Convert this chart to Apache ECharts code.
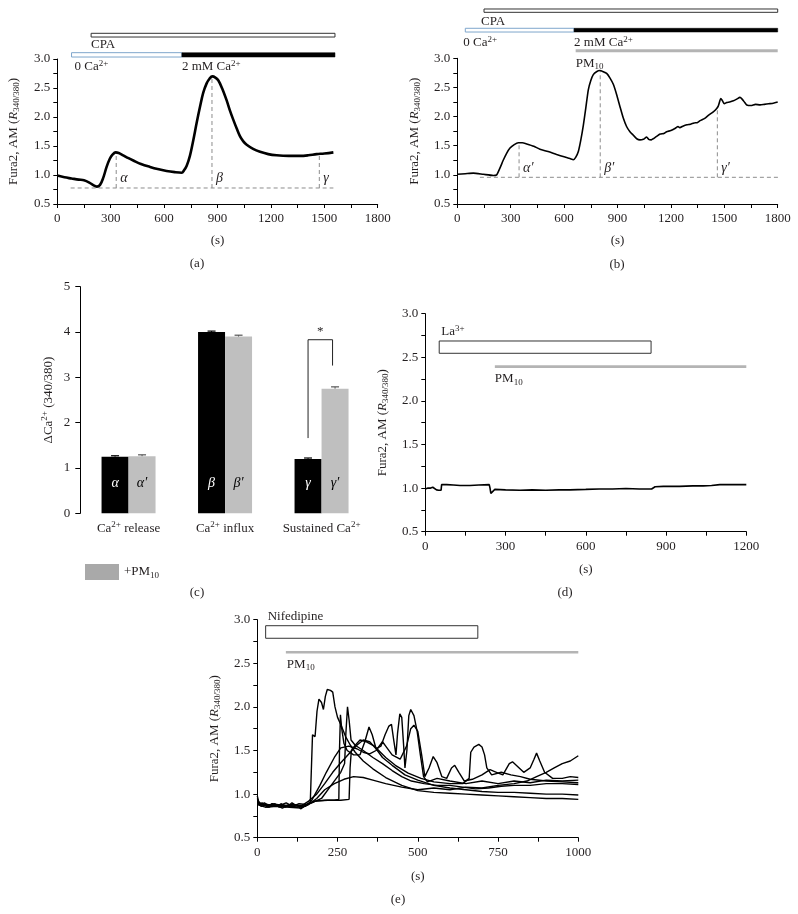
<!DOCTYPE html>
<html><head><meta charset="utf-8">
<script src="https://cdn.jsdelivr.net/npm/echarts/dist/echarts.min.js"></script>
<style>html,body{margin:0;padding:0;background:#fff}#c{width:798px;height:914px}</style>
</head><body><div id="c"></div>
<script>
// ================= DATA =================
// Panel (a): Fura2 ratio vs time (s), control
const aTrace = [[0,0.99],[40,0.96],[80,0.94],[120,0.92],[150,0.91],[180,0.87],[205,0.82],[222,0.80],[240,0.83],[258,0.95],[277,1.14],[295,1.28],[310,1.35],[328,1.39],[345,1.38],[370,1.34],[400,1.29],[427,1.25],[470,1.19],[521,1.14],[570,1.10],[614,1.07],[660,1.05],[699,1.04],[712,1.08],[727,1.16],[745,1.33],[764,1.60],[783,1.90],[802,2.18],[820,2.42],[839,2.58],[855,2.66],[871,2.70],[888,2.68],[905,2.63],[928,2.48],[951,2.29],[970,2.11],[989,1.95],[1008,1.80],[1026,1.67],[1045,1.58],[1064,1.52],[1100,1.45],[1139,1.40],[1185,1.36],[1232,1.34],[1300,1.33],[1364,1.33],[1410,1.34],[1457,1.36],[1500,1.37],[1551,1.39]];
const aTreatments = [
  {label:'CPA', start:190, end:1560},
  {label:'0 Ca{sup|2+}', start:80, end:700},
  {label:'2 mM Ca{sup|2+}', start:700, end:1560}
];
const aBaseline = {level:0.776, start:75, end:1551};
const aMarks = [{t:331, peak:1.38, label:'α'},{t:869, peak:2.70, label:'β'},{t:1472, peak:1.37, label:'γ'}];

// Panel (b): with PM10
const bTrace = [[0,1.01],[45,1.02],[90,1.03],[146,1.01],[202,0.99],[221,1.0],[240,1.12],[258,1.25],[277,1.37],[296,1.46],[320,1.52],[343,1.55],[365,1.55],[390,1.53],[430,1.49],[464,1.44],[510,1.40],[558,1.35],[600,1.31],[633,1.28],[652,1.26],[665,1.30],[680,1.40],[694,1.60],[708,1.85],[722,2.15],[736,2.46],[750,2.62],[764,2.72],[782,2.77],[801,2.79],[820,2.77],[839,2.74],[858,2.66],[877,2.55],[895,2.38],[914,2.17],[932,1.98],[951,1.83],[970,1.74],[989,1.68],[1008,1.62],[1026,1.60],[1045,1.61],[1064,1.65],[1075,1.61],[1090,1.60],[1101,1.62],[1120,1.66],[1140,1.70],[1160,1.71],[1176,1.74],[1200,1.76],[1225,1.80],[1240,1.83],[1250,1.81],[1270,1.84],[1290,1.86],[1310,1.87],[1330,1.89],[1350,1.90],[1364,1.93],[1390,1.97],[1410,2.02],[1438,2.08],[1455,2.13],[1466,2.18],[1474,2.26],[1480,2.31],[1490,2.27],[1500,2.22],[1513,2.24],[1530,2.25],[1551,2.27],[1570,2.30],[1588,2.33],[1600,2.30],[1615,2.24],[1626,2.20],[1650,2.19],[1675,2.21],[1701,2.20],[1725,2.21],[1750,2.22],[1775,2.23],[1800,2.25]];
const bTreatments = [
  {label:'CPA', start:150, end:1800},
  {label:'0 Ca{sup|2+}', start:45, end:656},
  {label:'2 mM Ca{sup|2+}', start:656, end:1800},
  {label:'PM{sub|10}', start:665, end:1800}
];
const bBaseline = {level:0.958, start:127, end:1820};
const bMarks = [{t:347, peak:1.55, label:'α′'},{t:803, peak:2.79, label:'β′'},{t:1461, peak:2.17, label:'γ′'}];

// Panel (c): ΔCa2+ bar summary
const cCategories = ['Ca2+ release', 'Ca2+ influx', 'Sustained Ca2+'];
const cControl = [1.25, 4.00, 1.20];
const cControlErr = [0.02, 0.02, 0.02];
const cPM10 = [1.26, 3.90, 2.75];
const cPM10Err = [0.03, 0.03, 0.04];
const cControlLabels = ['α', 'β', 'γ'];
const cPM10Labels = ['α′', 'β′', 'γ′'];
const cSignificance = {cat:2, leftY:1.66, topY:3.83, rightY:3.26, text:'*'};

// Panel (d): La3+ then PM10
const dTrace = [[0,0.99],[10,1.0],[20,1.0],[28,1.01],[35,1.0],[42,0.98],[50,0.975],[59,0.975],[61,1.04],[80,1.04],[105,1.035],[130,1.03],[167,1.03],[200,1.035],[239,1.04],[242,1.0],[245,0.94],[252,0.96],[260,0.985],[300,0.98],[354,0.975],[400,0.98],[450,0.975],[500,0.98],[540,0.98],[600,0.985],[650,0.99],[700,0.99],[750,0.995],[800,0.99],[846,0.99],[852,1.0],[859,1.015],[890,1.02],[950,1.02],[1000,1.025],[1039,1.025],[1070,1.03],[1101,1.04],[1150,1.04],[1200,1.04]];
const dTreatments = [
  {label:'La{sup|3+}', start:52, end:844},
  {label:'PM{sub|10}', start:260, end:1200}
];

// Panel (e): Nifedipine then PM10, individual cells
const eTrace1 = [[0,0.98],[5,0.9],[12,0.86],[25,0.88],[37,0.85],[50,0.88],[62,0.86],[75,0.89],[88,0.85],[100,0.87],[112,0.85],[125,0.88],[135,0.83],[150,0.87],[165,0.9],[170,0.92],[172,1.68],[180,1.66],[186,1.95],[192,2.09],[200,2.05],[206,1.97],[212,2.12],[218,2.2],[228,2.19],[235,2.17],[242,2.0],[250,1.88],[262,1.78],[275,1.66],[290,1.56],[305,1.48],[330,1.38],[360,1.29],[400,1.19],[450,1.1],[500,1.04],[550,1.02],[600,1.01],[650,1.0],[700,0.99],[750,0.98],[800,0.97],[850,0.96],[900,0.95],[950,0.95],[1000,0.94]];
const eTrace2 = [[0,0.95],[10,0.87],[22,0.9],[40,0.86],[55,0.89],[68,0.85],[80,0.88],[95,0.86],[108,0.9],[120,0.87],[140,0.85],[160,0.89],[180,0.92],[210,0.93],[240,0.93],[254,0.94],[256,1.5],[259,1.91],[263,1.75],[270,1.58],[280,1.5],[300,1.45],[320,1.45],[335,1.6],[348,1.77],[358,1.68],[370,1.52],[390,1.42],[420,1.33],[460,1.22],[500,1.16],[550,1.1],[600,1.07],[650,1.05],[700,1.03],[750,1.02],[800,1.02],[850,1.01],[900,1.0],[950,1.0],[1000,0.99]];
const eTrace3 = [[0,0.9],[20,0.88],[33,0.85],[45,0.89],[60,0.87],[78,0.84],[100,0.88],[118,0.85],[140,0.86],[170,0.9],[200,0.95],[230,1.1],[260,1.25],[272,1.35],[276,1.7],[281,2.0],[286,1.85],[292,1.62],[305,1.56],[330,1.5],[360,1.42],[390,1.35],[420,1.27],[450,1.2],[480,1.15],[520,1.12],[560,1.1],[600,1.1],[640,1.08],[680,1.06],[720,1.07],[760,1.09],[800,1.1],[850,1.1],[900,1.12],[950,1.12],[1000,1.11]];
const eTrace4 = [[0,0.88],[15,0.9],[30,0.86],[48,0.89],[70,0.87],[90,0.9],[110,0.86],[130,0.89],[150,0.88],[180,0.92],[220,0.93],[260,0.93],[286,0.94],[289,1.3],[293,1.5],[305,1.56],[320,1.62],[340,1.6],[365,1.55],[400,1.42],[430,1.33],[470,1.24],[510,1.18],[550,1.14],[600,1.12],[640,1.12],[660,1.18],[665,1.48],[675,1.54],[690,1.57],[700,1.54],[708,1.45],[715,1.3],[730,1.22],[760,1.25],[790,1.22],[820,1.2],[850,1.17],[900,1.15],[950,1.14],[1000,1.13]];
const eTrace5 = [[0,0.92],[20,0.87],[60,0.88],[100,0.86],[140,0.87],[160,0.92],[185,1.0],[210,1.12],[235,1.25],[260,1.36],[285,1.46],[310,1.56],[330,1.62],[350,1.6],[370,1.52],[385,1.55],[398,1.68],[410,1.78],[418,1.8],[425,1.62],[432,1.45],[437,1.7],[444,1.92],[450,1.88],[456,1.55],[460,1.3],[466,1.5],[472,1.9],[478,1.97],[488,1.9],[498,1.72],[508,1.45],[518,1.2],[530,1.14],[560,1.18],[600,1.15],[650,1.12],[700,1.15],[750,1.12],[800,1.15],[850,1.13],[900,1.16],[950,1.15],[1000,1.16]];
const eTrace6 = [[0,0.89],[30,0.88],[70,0.86],[110,0.88],[150,0.86],[170,0.93],[195,1.1],[215,1.25],[240,1.42],[260,1.53],[285,1.55],[310,1.52],[330,1.48],[350,1.46],[370,1.5],[390,1.6],[400,1.55],[420,1.45],[445,1.4],[465,1.55],[478,1.75],[488,1.79],[500,1.72],[512,1.45],[522,1.2],[535,1.3],[548,1.43],[560,1.36],[575,1.2],[590,1.18],[605,1.3],[615,1.33],[628,1.25],[645,1.15],[670,1.17],[700,1.22],[725,1.28],[745,1.25],[765,1.22],[785,1.35],[795,1.37],[810,1.32],[830,1.25],[850,1.3],[862,1.4],[870,1.47],[880,1.38],[895,1.25],[920,1.18],[950,1.18],[975,1.2],[1000,1.19]];
const eTrace7 = [[0,0.88],[25,0.85],[60,0.86],[100,0.85],[135,0.84],[160,0.88],[185,0.95],[210,1.05],[240,1.12],[270,1.17],[300,1.2],[330,1.19],[360,1.16],[400,1.12],[450,1.08],[500,1.05],[550,1.07],[600,1.05],[650,1.08],[700,1.07],[750,1.1],[800,1.12],[840,1.15],[870,1.2],[900,1.25],[925,1.3],[950,1.35],[975,1.38],[1000,1.44]];
const eTraces = [eTrace1, eTrace2, eTrace3, eTrace4, eTrace5, eTrace6, eTrace7];
const eTreatments = [
  {label:'Nifedipine', start:26, end:687},
  {label:'PM{sub|10}', start:89, end:1000}
];

// ================= STYLE / LAYOUT =================
const FONT = '"Liberation Serif","DejaVu Serif","Times New Roman",serif';
const INK = '#231f20';
const FS = 13;
const RICH = {
  i:{fontFamily:FONT, fontStyle:'italic', fontSize:FS, color:INK, lineHeight:16},
  sub:{fontFamily:FONT, fontSize:9, color:INK, lineHeight:8, verticalAlign:'bottom'},
  sup:{fontFamily:FONT, fontSize:9, color:INK, lineHeight:8, verticalAlign:'top'}
};
const FURA = 'Fura2, AM ({i|R}{sub|340/380})';
const BAR_STYLE = {
  open:{fill:'#fff', stroke:'#333', lineWidth:1},
  blue:{fill:'#fff', stroke:'#7fa6cc', lineWidth:1},
  solid:{fill:'#000', stroke:'#000', lineWidth:0.5},
  gray:{fill:'#b4b4b4', stroke:'#b4b4b4', lineWidth:0}
};
const aLayout = [
  {kind:'open', y0:3.379, y1:3.443, pos:'below', dx:0, dy:8},
  {kind:'blue', y0:3.034, y1:3.109, pos:'below', dx:3, dy:10},
  {kind:'solid', y0:3.034, y1:3.109, pos:'below', dx:0, dy:10}
];
const bLayout = [
  {kind:'open', y0:3.789, y1:3.846, pos:'below', dx:-3, dy:9.5},
  {kind:'blue', y0:3.451, y1:3.515, pos:'below', dx:-2, dy:11},
  {kind:'solid', y0:3.451, y1:3.515, pos:'below', dx:0, dy:11},
  {kind:'gray', y0:3.103, y1:3.154, pos:'below', dx:0, dy:11}
];
const dLayout = [
  {kind:'open', y0:2.546, y1:2.687, pos:'above', dx:2, dy:9},
  {kind:'gray', y0:2.377, y1:2.408, pos:'below', dx:0, dy:11}
];
const eLayout = [
  {kind:'open', y0:2.787, y1:2.931, pos:'above', dx:2, dy:9},
  {kind:'gray', y0:2.612, y1:2.641, pos:'below', dx:1, dy:11}
];

function textStyle(txt, extra) {
  return Object.assign({text:txt, fill:INK, fontFamily:FONT, fontSize:FS, lineHeight:16,
    rich:RICH, align:'left', textAlign:'left', verticalAlign:'middle', textVerticalAlign:'middle'}, extra||{});
}

function treatmentSeries(idx, items, layout) {
  return {
    type:'custom', xAxisIndex:idx, yAxisIndex:idx, clip:false, silent:true, z:5,
    data: items.map(d => [d.start, d.end]),
    renderItem: (params, api) => {
      const d = items[params.dataIndex], L = layout[params.dataIndex];
      const p0 = api.coord([api.value(0), L.y1]);
      const p1 = api.coord([api.value(1), L.y0]);
      const children = [{type:'rect', shape:{x:p0[0], y:p0[1], width:p1[0]-p0[0], height:p1[1]-p0[1]}, style:BAR_STYLE[L.kind]}];
      const ty = L.pos === 'below' ? p1[1] + L.dy : p0[1] - L.dy;
      children.push({type:'text', x:p0[0] + L.dx, y:ty, style:textStyle(d.label)});
      return {type:'group', children};
    }
  };
}

function baselineSeries(idx, base) {
  return {type:'line', xAxisIndex:idx, yAxisIndex:idx, clip:false, silent:true, showSymbol:false, symbol:'none',
    data:[[base.start, base.level],[base.end, base.level]],
    lineStyle:{color:'#8c8c8c', width:1, type:[4,3]}, z:3};
}
function markerSeries(idx, base, marks, labelLift) {
  return {
    type:'custom', xAxisIndex:idx, yAxisIndex:idx, clip:false, silent:true, z:3,
    data: marks.map(m => [m.t, m.peak]),
    renderItem: (params, api) => {
      const m = marks[params.dataIndex];
      const pb = api.coord([api.value(0), base.level]);
      const pt = api.coord([api.value(0), api.value(1)]);
      return {type:'group', children:[
        {type:'line', shape:{x1:pb[0], y1:pb[1], x2:pt[0], y2:pt[1]}, style:{stroke:'#8c8c8c', lineWidth:1, lineDash:[4,3]}},
        {type:'text', x:pb[0] + 4, y:pb[1] - labelLift, style:textStyle(m.label, {fontStyle:'italic', fontSize:14})}
      ]};
    }
  };
}

function xAxis(idx, max, interval, gap) {
  return {type:'value', gridIndex:idx, min:0, max, interval,
    axisLine:{show:true, onZero:false, lineStyle:{color:'#000', width:1}},
    axisTick:{show:true, length:4, lineStyle:{color:'#000'}},
    minorTick:{show:true, splitNumber:2, length:4, lineStyle:{color:'#000'}},
    splitLine:{show:false}, minorSplitLine:{show:false},
    axisLabel:{fontFamily:FONT, fontSize:FS, color:INK, margin:8, formatter:v => String(v)},
    name:'(s)', nameLocation:'middle', nameGap:gap,
    nameTextStyle:{fontFamily:FONT, fontSize:FS, color:INK}};
}
function yAxis(idx, min, max, gap) {
  return {type:'value', gridIndex:idx, min, max, interval:0.5,
    axisLine:{show:true, onZero:false, lineStyle:{color:'#000', width:1}},
    axisTick:{show:true, length:4, lineStyle:{color:'#000'}},
    minorTick:{show:true, splitNumber:2, length:4, lineStyle:{color:'#000'}},
    splitLine:{show:false}, minorSplitLine:{show:false},
    axisLabel:{fontFamily:FONT, fontSize:FS, color:INK, margin:7, formatter:v => v.toFixed(1)},
    name:FURA, nameLocation:'middle', nameGap:gap, nameRotate:90,
    nameTextStyle:{fontFamily:FONT, fontSize:FS, color:INK, lineHeight:16, rich:RICH}};
}
function traceSeries(idx, data, width) {
  return {type:'line', xAxisIndex:idx, yAxisIndex:idx, data, showSymbol:false, symbol:'none',
    lineStyle:{color:'#000', width}, z:4, silent:true};
}

const chart = echarts.init(document.getElementById('c'), null, {width:798, height:914});

const series = [
  Object.assign(traceSeries(0, aTrace, 2.6), {smooth:0.35}),
  treatmentSeries(0, aTreatments, aLayout),
  baselineSeries(0, aBaseline),
  markerSeries(0, aBaseline, aMarks, 10),
  Object.assign(traceSeries(1, bTrace, 1.6), {smooth:0.2}),
  treatmentSeries(1, bTreatments, bLayout),
  baselineSeries(1, bBaseline),
  markerSeries(1, bBaseline, bMarks, 9),
  {type:'bar', name:'Control', xAxisIndex:2, yAxisIndex:2, data:cControl, barWidth:27, barGap:'0%',
    itemStyle:{color:'#000'}, silent:true,
    label:{show:true, position:'insideBottom', distance:23, formatter:p => cControlLabels[p.dataIndex],
      fontFamily:FONT, fontStyle:'italic', fontSize:14, color:'#fff'}},
  {type:'bar', name:'+PM10', xAxisIndex:2, yAxisIndex:2, data:cPM10, barWidth:27, barGap:'0%',
    itemStyle:{color:'#bfbfbf'}, silent:true,
    label:{show:true, position:'insideBottom', distance:23, formatter:p => cPM10Labels[p.dataIndex],
      fontFamily:FONT, fontStyle:'italic', fontSize:14, color:'#000'}},
  {type:'custom', xAxisIndex:2, yAxisIndex:2, silent:true, clip:false, z:6,
    data: cCategories.map((c,i) => [i, cControl[i], cControlErr[i], cPM10[i], cPM10Err[i]]),
    renderItem:(params, api) => {
      const i = api.value(0), half = 13.5, cap = 4;
      const kids = [];
      [[api.value(1), api.value(2), -half, '#000'], [api.value(3), api.value(4), half, '#555']].forEach(([v, e, off, col]) => {
        const top = api.coord([i, v + e]), bot = api.coord([i, v]);
        const x = top[0] + off;
        kids.push({type:'line', shape:{x1:x, y1:bot[1], x2:x, y2:top[1]}, style:{stroke:col, lineWidth:1}});
        kids.push({type:'line', shape:{x1:x-cap, y1:top[1], x2:x+cap, y2:top[1]}, style:{stroke:col, lineWidth:1.2}});
      });
      return {type:'group', children:kids};
    }},
  {type:'custom', xAxisIndex:2, yAxisIndex:2, silent:true, clip:false, z:6,
    data:[[cSignificance.cat, cSignificance.leftY, cSignificance.topY, cSignificance.rightY]],
    renderItem:(params, api) => {
      const c = api.value(0);
      const pl = api.coord([c, api.value(1)]), pt = api.coord([c, api.value(2)]), pr = api.coord([c, api.value(3)]);
      const xl = pl[0] - 13.5, xr = pl[0] + 11;
      return {type:'group', children:[
        {type:'polyline', shape:{points:[[xl, pl[1]],[xl, pt[1]],[xr, pt[1]],[xr, pr[1]]]}, style:{stroke:'#222', lineWidth:1, fill:null}},
        {type:'text', x:(xl+xr)/2, y:pt[1]-8, style:textStyle(cSignificance.text, {align:'center', textAlign:'center', fontSize:13})}
      ]};
    }},
  traceSeries(3, dTrace, 1.6),
  treatmentSeries(3, dTreatments, dLayout),
  ...eTraces.map(t => traceSeries(4, t, 1.4)),
  treatmentSeries(4, eTreatments, eLayout)
];

const panelText = (t, x, y) => ({type:'text', x, y, style:{text:t, fill:INK, fontFamily:FONT, fontSize:FS, align:'center', textAlign:'center', verticalAlign:'middle', textVerticalAlign:'middle'}});

chart.setOption({
  animation:false,
  backgroundColor:'#fff',
  textStyle:{fontFamily:FONT},
  grid:[
    {left:57.3, top:59, width:320.4, height:145},
    {left:457.3, top:58.3, width:320.4, height:145.7},
    {left:80.3, top:286.7, width:289.5, height:226.6},
    {left:425.3, top:313.7, width:321, height:218},
    {left:257.3, top:619.7, width:321, height:218}
  ],
  xAxis:[
    xAxis(0, 1800, 300, 30),
    xAxis(1, 1800, 300, 30),
    {type:'category', gridIndex:2, data:cCategories,
      axisLine:{show:false}, axisTick:{show:false},
      axisLabel:{interval:0, margin:7, fontFamily:FONT, fontSize:FS, color:INK, lineHeight:16, rich:RICH,
        formatter:v => v.replace('2+', '{sup|2+}')}},
    xAxis(3, 1200, 300, 31),
    xAxis(4, 1000, 250, 32)
  ],
  yAxis:[
    yAxis(0, 0.5, 3.0, 36),
    yAxis(1, 0.5, 3.0, 35),
    {type:'value', gridIndex:2, min:0, max:5, interval:1,
      axisLine:{show:true, onZero:false, lineStyle:{color:'#000'}},
      axisTick:{show:true, length:5, lineStyle:{color:'#000'}},
      splitLine:{show:false},
      axisLabel:{fontFamily:FONT, fontSize:FS, color:INK, margin:10},
      name:'ΔCa{sup|2+} (340/380)', nameLocation:'middle', nameGap:24, nameRotate:90,
      nameTextStyle:{fontFamily:FONT, fontSize:FS, color:INK, lineHeight:16, rich:RICH}},
    yAxis(3, 0.5, 3.0, 35),
    yAxis(4, 0.5, 3.0, 35)
  ],
  legend:{show:true, selectedMode:false, left:80, top:559, icon:'rect', itemWidth:34, itemHeight:16, itemGap:8,
    data:[{name:'+PM10', itemStyle:{color:'#a9a9a9'}}],
    formatter:() => '+PM{sub|10}',
    textStyle:{fontFamily:FONT, fontSize:FS, color:INK, lineHeight:16, rich:RICH}},
  graphic:[
    panelText('(a)', 197, 264),
    panelText('(b)', 617, 265),
    panelText('(c)', 197, 593),
    panelText('(d)', 565, 593),
    panelText('(e)', 398, 900)
  ],
  series
});
</script></body></html>
